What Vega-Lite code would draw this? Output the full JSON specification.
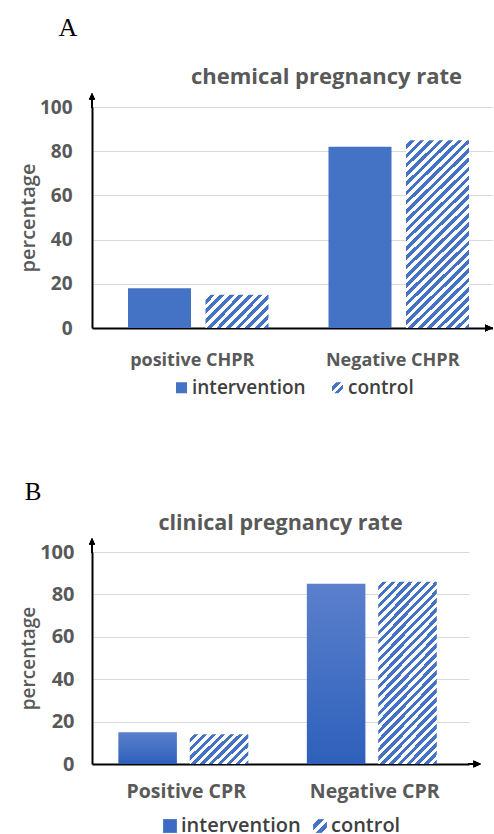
{
  "$schema": "https://vega.github.io/schema/vega-lite/v6.json",
  "background": "white",
  "padding": {"left": 18, "top": 15, "right": 0, "bottom": 0},
  "config": {"view": {"stroke": null}, "font": "Open Sans", "legend": {"layout": {"bottom": {"anchor": "middle"}}}},
  "spacing": 81,
  "resolve": {"scale": {"fill": "independent", "xOffset": "independent", "x": "independent", "y": "independent"}, "legend": {"fill": "independent"}},
  "vconcat": [
    {
      "title": {"text": "A", "anchor": "start", "font": "Liberation Serif", "fontSize": 26, "fontWeight": "normal", "color": "black", "dx": 40, "offset": 25},
      "resolve": {"scale": {"fill": "independent", "xOffset": "independent"}, "legend": {"fill": "independent"}},
      "vconcat": [
        {
          "width": 401,
          "height": 221,
          "title": {"text": "chemical pregnancy rate", "frame": "group", "anchor": "middle", "dx": 34, "fontSize": 22, "fontWeight": "bold", "color": "#595959", "font": "Open Sans", "offset": 4},
          "data": {"values": [
            {"category": "positive CHPR", "group": "intervention", "value": 18},
            {"category": "positive CHPR", "group": "control", "value": 15},
            {"category": "Negative CHPR", "group": "intervention", "value": 82},
            {"category": "Negative CHPR", "group": "control", "value": 85}
          ]},
          "layer": [
            {
              "mark": {"type": "bar"},
              "encoding": {
                "x": {"field": "category", "type": "nominal", "sort": ["positive CHPR", "Negative CHPR"],
                  "scale": {"paddingInner": 0, "paddingOuter": 0},
                  "axis": {"title": null, "labelAngle": 0, "ticks": false, "grid": false, "domainColor": "black", "domainWidth": 2, "labelPadding": 23, "labelFontSize": 18, "labelFontWeight": "bold", "labelColor": "#595959", "labelFont": "Open Sans"}},
                "xOffset": {"field": "group", "type": "nominal", "sort": ["intervention", "control"],
                  "scale": {"paddingInner": 0.187, "paddingOuter": 0.387, "align": 0.6}},
                "y": {"field": "value", "type": "quantitative", "scale": {"domain": [0, 100]},
                  "axis": {"values": [0, 20, 40, 60, 80, 100], "grid": true, "gridColor": "#d9d9d9", "gridWidth": 1, "ticks": false, "domainColor": "black", "domainWidth": 2, "labelPadding": 20, "labelFontSize": 19, "labelFontWeight": "bold", "labelColor": "#595959", "labelFont": "Open Sans", "title": "percentage", "titleFontSize": 20, "titleFontWeight": 600, "titleColor": "#595959", "titleFont": "Open Sans", "titlePadding": 1}},
                "fill": {
                  "field": "group", "type": "nominal",
                  "scale": {"domain": ["intervention", "control"], "range": ["#4472c4", {"expr": "{gradient: 'linear', x1: 0, y1: 0, x2: 1, y2: 1, stops: [{offset: 0, color: '#ffffff'}, {offset: 0.2, color: '#ffffff'}, {offset: 0.2, color: '#4472c4'}, {offset: 0.4, color: '#4472c4'}, {offset: 0.4, color: '#ffffff'}, {offset: 0.6, color: '#ffffff'}, {offset: 0.6, color: '#4472c4'}, {offset: 0.8, color: '#4472c4'}, {offset: 0.8, color: '#ffffff'}, {offset: 1, color: '#ffffff'}]}"}]},
                  "legend": {"title": null, "orient": "bottom", "direction": "horizontal", "symbolType": "square", "symbolSize": 121, "symbolStrokeWidth": 0, "labelFontSize": 19, "labelFontWeight": 600, "labelColor": "#404040", "labelFont": "Open Sans", "labelOffset": 1, "columnPadding": 22, "offset": 9},
                  "condition": [
                    {"test": "datum.group === 'control' && datum.category === 'Negative CHPR'", "value": {"gradient": "linear", "x1": 0, "y1": 0, "x2": 0.395, "y2": 1.2, "stops": [{"offset": 0, "color": "#ffffff"}, {"offset": 0.019, "color": "#ffffff"}, {"offset": 0.019, "color": "#4472c4"}, {"offset": 0.037, "color": "#4472c4"}, {"offset": 0.037, "color": "#ffffff"}, {"offset": 0.056, "color": "#ffffff"}, {"offset": 0.056, "color": "#4472c4"}, {"offset": 0.074, "color": "#4472c4"}, {"offset": 0.074, "color": "#ffffff"}, {"offset": 0.093, "color": "#ffffff"}, {"offset": 0.093, "color": "#4472c4"}, {"offset": 0.111, "color": "#4472c4"}, {"offset": 0.111, "color": "#ffffff"}, {"offset": 0.13, "color": "#ffffff"}, {"offset": 0.13, "color": "#4472c4"}, {"offset": 0.148, "color": "#4472c4"}, {"offset": 0.148, "color": "#ffffff"}, {"offset": 0.167, "color": "#ffffff"}, {"offset": 0.167, "color": "#4472c4"}, {"offset": 0.185, "color": "#4472c4"}, {"offset": 0.185, "color": "#ffffff"}, {"offset": 0.204, "color": "#ffffff"}, {"offset": 0.204, "color": "#4472c4"}, {"offset": 0.222, "color": "#4472c4"}, {"offset": 0.222, "color": "#ffffff"}, {"offset": 0.241, "color": "#ffffff"}, {"offset": 0.241, "color": "#4472c4"}, {"offset": 0.259, "color": "#4472c4"}, {"offset": 0.259, "color": "#ffffff"}, {"offset": 0.278, "color": "#ffffff"}, {"offset": 0.278, "color": "#4472c4"}, {"offset": 0.296, "color": "#4472c4"}, {"offset": 0.296, "color": "#ffffff"}, {"offset": 0.315, "color": "#ffffff"}, {"offset": 0.315, "color": "#4472c4"}, {"offset": 0.333, "color": "#4472c4"}, {"offset": 0.333, "color": "#ffffff"}, {"offset": 0.352, "color": "#ffffff"}, {"offset": 0.352, "color": "#4472c4"}, {"offset": 0.37, "color": "#4472c4"}, {"offset": 0.37, "color": "#ffffff"}, {"offset": 0.389, "color": "#ffffff"}, {"offset": 0.389, "color": "#4472c4"}, {"offset": 0.407, "color": "#4472c4"}, {"offset": 0.407, "color": "#ffffff"}, {"offset": 0.426, "color": "#ffffff"}, {"offset": 0.426, "color": "#4472c4"}, {"offset": 0.444, "color": "#4472c4"}, {"offset": 0.444, "color": "#ffffff"}, {"offset": 0.463, "color": "#ffffff"}, {"offset": 0.463, "color": "#4472c4"}, {"offset": 0.481, "color": "#4472c4"}, {"offset": 0.481, "color": "#ffffff"}, {"offset": 0.5, "color": "#ffffff"}, {"offset": 0.5, "color": "#4472c4"}, {"offset": 0.519, "color": "#4472c4"}, {"offset": 0.519, "color": "#ffffff"}, {"offset": 0.537, "color": "#ffffff"}, {"offset": 0.537, "color": "#4472c4"}, {"offset": 0.556, "color": "#4472c4"}, {"offset": 0.556, "color": "#ffffff"}, {"offset": 0.574, "color": "#ffffff"}, {"offset": 0.574, "color": "#4472c4"}, {"offset": 0.593, "color": "#4472c4"}, {"offset": 0.593, "color": "#ffffff"}, {"offset": 0.611, "color": "#ffffff"}, {"offset": 0.611, "color": "#4472c4"}, {"offset": 0.63, "color": "#4472c4"}, {"offset": 0.63, "color": "#ffffff"}, {"offset": 0.648, "color": "#ffffff"}, {"offset": 0.648, "color": "#4472c4"}, {"offset": 0.667, "color": "#4472c4"}, {"offset": 0.667, "color": "#ffffff"}, {"offset": 0.685, "color": "#ffffff"}, {"offset": 0.685, "color": "#4472c4"}, {"offset": 0.704, "color": "#4472c4"}, {"offset": 0.704, "color": "#ffffff"}, {"offset": 0.722, "color": "#ffffff"}, {"offset": 0.722, "color": "#4472c4"}, {"offset": 0.741, "color": "#4472c4"}, {"offset": 0.741, "color": "#ffffff"}, {"offset": 0.759, "color": "#ffffff"}, {"offset": 0.759, "color": "#4472c4"}, {"offset": 0.778, "color": "#4472c4"}, {"offset": 0.778, "color": "#ffffff"}, {"offset": 0.796, "color": "#ffffff"}, {"offset": 0.796, "color": "#4472c4"}, {"offset": 0.815, "color": "#4472c4"}, {"offset": 0.815, "color": "#ffffff"}, {"offset": 0.833, "color": "#ffffff"}, {"offset": 0.833, "color": "#4472c4"}, {"offset": 0.852, "color": "#4472c4"}, {"offset": 0.852, "color": "#ffffff"}, {"offset": 0.87, "color": "#ffffff"}, {"offset": 0.87, "color": "#4472c4"}, {"offset": 0.889, "color": "#4472c4"}, {"offset": 0.889, "color": "#ffffff"}, {"offset": 0.907, "color": "#ffffff"}, {"offset": 0.907, "color": "#4472c4"}, {"offset": 0.926, "color": "#4472c4"}, {"offset": 0.926, "color": "#ffffff"}, {"offset": 0.944, "color": "#ffffff"}, {"offset": 0.944, "color": "#4472c4"}, {"offset": 0.963, "color": "#4472c4"}, {"offset": 0.963, "color": "#ffffff"}, {"offset": 0.981, "color": "#ffffff"}, {"offset": 0.981, "color": "#4472c4"}, {"offset": 1, "color": "#4472c4"}]}},
                    {"test": "datum.group === 'control'", "value": {"gradient": "linear", "x1": 0, "y1": 0, "x2": 1.2, "y2": 0.62, "stops": [{"offset": 0, "color": "#ffffff"}, {"offset": 0.05, "color": "#ffffff"}, {"offset": 0.05, "color": "#4472c4"}, {"offset": 0.1, "color": "#4472c4"}, {"offset": 0.1, "color": "#ffffff"}, {"offset": 0.15, "color": "#ffffff"}, {"offset": 0.15, "color": "#4472c4"}, {"offset": 0.2, "color": "#4472c4"}, {"offset": 0.2, "color": "#ffffff"}, {"offset": 0.25, "color": "#ffffff"}, {"offset": 0.25, "color": "#4472c4"}, {"offset": 0.3, "color": "#4472c4"}, {"offset": 0.3, "color": "#ffffff"}, {"offset": 0.35, "color": "#ffffff"}, {"offset": 0.35, "color": "#4472c4"}, {"offset": 0.4, "color": "#4472c4"}, {"offset": 0.4, "color": "#ffffff"}, {"offset": 0.45, "color": "#ffffff"}, {"offset": 0.45, "color": "#4472c4"}, {"offset": 0.5, "color": "#4472c4"}, {"offset": 0.5, "color": "#ffffff"}, {"offset": 0.55, "color": "#ffffff"}, {"offset": 0.55, "color": "#4472c4"}, {"offset": 0.6, "color": "#4472c4"}, {"offset": 0.6, "color": "#ffffff"}, {"offset": 0.65, "color": "#ffffff"}, {"offset": 0.65, "color": "#4472c4"}, {"offset": 0.7, "color": "#4472c4"}, {"offset": 0.7, "color": "#ffffff"}, {"offset": 0.75, "color": "#ffffff"}, {"offset": 0.75, "color": "#4472c4"}, {"offset": 0.8, "color": "#4472c4"}, {"offset": 0.8, "color": "#ffffff"}, {"offset": 0.85, "color": "#ffffff"}, {"offset": 0.85, "color": "#4472c4"}, {"offset": 0.9, "color": "#4472c4"}, {"offset": 0.9, "color": "#ffffff"}, {"offset": 0.95, "color": "#ffffff"}, {"offset": 0.95, "color": "#4472c4"}, {"offset": 1, "color": "#4472c4"}]}}
                  ]
                }
              }
            },
            {
              "mark": {"type": "point", "shape": "M-0.1,0.1 L-0.1,-0.75 L-0.3,-0.75 L0,-1.4 L0.3,-0.75 L0.1,-0.75 L0.1,0.1 Z", "filled": true, "fill": "black", "strokeWidth": 0, "size": 400, "opacity": 1},
              "encoding": {"x": {"datum": "positive CHPR", "bandPosition": 0}, "y": {"datum": 100}}
            },
            {
              "mark": {"type": "point", "shape": "M-0.8,-0.35 L0,0 L-0.8,0.35 Z", "filled": true, "fill": "black", "strokeWidth": 0, "size": 400, "opacity": 1},
              "encoding": {"x": {"datum": "Negative CHPR", "bandPosition": 1}, "y": {"datum": 0}}
            }
          ]
        }
      ]
    },
    {
      "title": {"text": "B", "anchor": "start", "font": "Liberation Serif", "fontSize": 25, "fontWeight": "normal", "color": "black", "dx": 5, "offset": 8},
      "resolve": {"scale": {"fill": "independent", "xOffset": "independent"}, "legend": {"fill": "independent"}},
      "vconcat": [
        {
          "width": 377,
          "height": 212,
          "title": {"text": "clinical pregnancy rate", "frame": "group", "anchor": "middle", "dx": 0, "fontSize": 21.5, "fontWeight": "bold", "color": "#595959", "font": "Open Sans", "offset": 4},
          "data": {"values": [
            {"category": "Positive CPR", "group": "intervention", "value": 15},
            {"category": "Positive CPR", "group": "control", "value": 14},
            {"category": "Negative CPR", "group": "intervention", "value": 85},
            {"category": "Negative CPR", "group": "control", "value": 86}
          ]},
          "layer": [
            {
              "mark": {"type": "bar"},
              "encoding": {
                "x": {"field": "category", "type": "nominal", "sort": ["Positive CPR", "Negative CPR"],
                  "scale": {"paddingInner": 0, "paddingOuter": 0},
                  "axis": {"title": null, "labelAngle": 0, "ticks": false, "grid": false, "domainColor": "black", "domainWidth": 2, "labelPadding": 18, "labelFontSize": 19.5, "labelFontWeight": "bold", "labelColor": "#595959", "labelFont": "Open Sans"}},
                "xOffset": {"field": "group", "type": "nominal", "sort": ["intervention", "control"],
                  "scale": {"paddingInner": 0.18, "paddingOuter": 0.41, "align": 0.45}},
                "y": {"field": "value", "type": "quantitative", "scale": {"domain": [0, 100]},
                  "axis": {"values": [0, 20, 40, 60, 80, 100], "grid": true, "gridColor": "#d9d9d9", "gridWidth": 1, "ticks": false, "domainColor": "black", "domainWidth": 2, "labelPadding": 18, "labelFontSize": 20, "labelFontWeight": "bold", "labelColor": "#595959", "labelFont": "Open Sans", "title": "percentage", "titleFontSize": 19, "titleFontWeight": 600, "titleColor": "#595959", "titleFont": "Open Sans", "titlePadding": 1}},
                "fill": {
                  "field": "group", "type": "nominal",
                  "scale": {"domain": ["intervention", "control"], "range": ["#3d6bc4", {"expr": "{gradient: 'linear', x1: 0, y1: 0, x2: 1, y2: 1, stops: [{offset: 0, color: '#ffffff'}, {offset: 0.2, color: '#ffffff'}, {offset: 0.2, color: '#4472c4'}, {offset: 0.4, color: '#4472c4'}, {offset: 0.4, color: '#ffffff'}, {offset: 0.6, color: '#ffffff'}, {offset: 0.6, color: '#4472c4'}, {offset: 0.8, color: '#4472c4'}, {offset: 0.8, color: '#ffffff'}, {offset: 1, color: '#ffffff'}]}"}]},
                  "legend": {"title": null, "orient": "bottom", "direction": "horizontal", "symbolType": "square", "symbolSize": 190, "symbolStrokeWidth": 0, "labelFontSize": 20, "labelFontWeight": 600, "labelColor": "#404040", "labelFont": "Open Sans", "labelOffset": 1, "columnPadding": 9, "offset": 15},
                  "condition": [
                    {"test": "datum.group === 'intervention'", "value": {"gradient": "linear", "x1": 0, "y1": 0, "x2": 0, "y2": 1, "stops": [{"offset": 0, "color": "#5b80cc"}, {"offset": 1, "color": "#2e60bb"}]}},
                    {"test": "datum.group === 'control' && datum.category === 'Negative CPR'", "value": {"gradient": "linear", "x1": 0, "y1": 0, "x2": 0.395, "y2": 1.2, "stops": [{"offset": 0, "color": "#ffffff"}, {"offset": 0.019, "color": "#ffffff"}, {"offset": 0.019, "color": "#4472c4"}, {"offset": 0.037, "color": "#4472c4"}, {"offset": 0.037, "color": "#ffffff"}, {"offset": 0.056, "color": "#ffffff"}, {"offset": 0.056, "color": "#4472c4"}, {"offset": 0.074, "color": "#4472c4"}, {"offset": 0.074, "color": "#ffffff"}, {"offset": 0.093, "color": "#ffffff"}, {"offset": 0.093, "color": "#4472c4"}, {"offset": 0.111, "color": "#4472c4"}, {"offset": 0.111, "color": "#ffffff"}, {"offset": 0.13, "color": "#ffffff"}, {"offset": 0.13, "color": "#4472c4"}, {"offset": 0.148, "color": "#4472c4"}, {"offset": 0.148, "color": "#ffffff"}, {"offset": 0.167, "color": "#ffffff"}, {"offset": 0.167, "color": "#4472c4"}, {"offset": 0.185, "color": "#4472c4"}, {"offset": 0.185, "color": "#ffffff"}, {"offset": 0.204, "color": "#ffffff"}, {"offset": 0.204, "color": "#4472c4"}, {"offset": 0.222, "color": "#4472c4"}, {"offset": 0.222, "color": "#ffffff"}, {"offset": 0.241, "color": "#ffffff"}, {"offset": 0.241, "color": "#4472c4"}, {"offset": 0.259, "color": "#4472c4"}, {"offset": 0.259, "color": "#ffffff"}, {"offset": 0.278, "color": "#ffffff"}, {"offset": 0.278, "color": "#4472c4"}, {"offset": 0.296, "color": "#4472c4"}, {"offset": 0.296, "color": "#ffffff"}, {"offset": 0.315, "color": "#ffffff"}, {"offset": 0.315, "color": "#4472c4"}, {"offset": 0.333, "color": "#4472c4"}, {"offset": 0.333, "color": "#ffffff"}, {"offset": 0.352, "color": "#ffffff"}, {"offset": 0.352, "color": "#4472c4"}, {"offset": 0.37, "color": "#4472c4"}, {"offset": 0.37, "color": "#ffffff"}, {"offset": 0.389, "color": "#ffffff"}, {"offset": 0.389, "color": "#4472c4"}, {"offset": 0.407, "color": "#4472c4"}, {"offset": 0.407, "color": "#ffffff"}, {"offset": 0.426, "color": "#ffffff"}, {"offset": 0.426, "color": "#4472c4"}, {"offset": 0.444, "color": "#4472c4"}, {"offset": 0.444, "color": "#ffffff"}, {"offset": 0.463, "color": "#ffffff"}, {"offset": 0.463, "color": "#4472c4"}, {"offset": 0.481, "color": "#4472c4"}, {"offset": 0.481, "color": "#ffffff"}, {"offset": 0.5, "color": "#ffffff"}, {"offset": 0.5, "color": "#4472c4"}, {"offset": 0.519, "color": "#4472c4"}, {"offset": 0.519, "color": "#ffffff"}, {"offset": 0.537, "color": "#ffffff"}, {"offset": 0.537, "color": "#4472c4"}, {"offset": 0.556, "color": "#4472c4"}, {"offset": 0.556, "color": "#ffffff"}, {"offset": 0.574, "color": "#ffffff"}, {"offset": 0.574, "color": "#4472c4"}, {"offset": 0.593, "color": "#4472c4"}, {"offset": 0.593, "color": "#ffffff"}, {"offset": 0.611, "color": "#ffffff"}, {"offset": 0.611, "color": "#4472c4"}, {"offset": 0.63, "color": "#4472c4"}, {"offset": 0.63, "color": "#ffffff"}, {"offset": 0.648, "color": "#ffffff"}, {"offset": 0.648, "color": "#4472c4"}, {"offset": 0.667, "color": "#4472c4"}, {"offset": 0.667, "color": "#ffffff"}, {"offset": 0.685, "color": "#ffffff"}, {"offset": 0.685, "color": "#4472c4"}, {"offset": 0.704, "color": "#4472c4"}, {"offset": 0.704, "color": "#ffffff"}, {"offset": 0.722, "color": "#ffffff"}, {"offset": 0.722, "color": "#4472c4"}, {"offset": 0.741, "color": "#4472c4"}, {"offset": 0.741, "color": "#ffffff"}, {"offset": 0.759, "color": "#ffffff"}, {"offset": 0.759, "color": "#4472c4"}, {"offset": 0.778, "color": "#4472c4"}, {"offset": 0.778, "color": "#ffffff"}, {"offset": 0.796, "color": "#ffffff"}, {"offset": 0.796, "color": "#4472c4"}, {"offset": 0.815, "color": "#4472c4"}, {"offset": 0.815, "color": "#ffffff"}, {"offset": 0.833, "color": "#ffffff"}, {"offset": 0.833, "color": "#4472c4"}, {"offset": 0.852, "color": "#4472c4"}, {"offset": 0.852, "color": "#ffffff"}, {"offset": 0.87, "color": "#ffffff"}, {"offset": 0.87, "color": "#4472c4"}, {"offset": 0.889, "color": "#4472c4"}, {"offset": 0.889, "color": "#ffffff"}, {"offset": 0.907, "color": "#ffffff"}, {"offset": 0.907, "color": "#4472c4"}, {"offset": 0.926, "color": "#4472c4"}, {"offset": 0.926, "color": "#ffffff"}, {"offset": 0.944, "color": "#ffffff"}, {"offset": 0.944, "color": "#4472c4"}, {"offset": 0.963, "color": "#4472c4"}, {"offset": 0.963, "color": "#ffffff"}, {"offset": 0.981, "color": "#ffffff"}, {"offset": 0.981, "color": "#4472c4"}, {"offset": 1, "color": "#4472c4"}]}},
                    {"test": "datum.group === 'control'", "value": {"gradient": "linear", "x1": 0, "y1": 0, "x2": 1.2, "y2": 0.62, "stops": [{"offset": 0, "color": "#ffffff"}, {"offset": 0.05, "color": "#ffffff"}, {"offset": 0.05, "color": "#4472c4"}, {"offset": 0.1, "color": "#4472c4"}, {"offset": 0.1, "color": "#ffffff"}, {"offset": 0.15, "color": "#ffffff"}, {"offset": 0.15, "color": "#4472c4"}, {"offset": 0.2, "color": "#4472c4"}, {"offset": 0.2, "color": "#ffffff"}, {"offset": 0.25, "color": "#ffffff"}, {"offset": 0.25, "color": "#4472c4"}, {"offset": 0.3, "color": "#4472c4"}, {"offset": 0.3, "color": "#ffffff"}, {"offset": 0.35, "color": "#ffffff"}, {"offset": 0.35, "color": "#4472c4"}, {"offset": 0.4, "color": "#4472c4"}, {"offset": 0.4, "color": "#ffffff"}, {"offset": 0.45, "color": "#ffffff"}, {"offset": 0.45, "color": "#4472c4"}, {"offset": 0.5, "color": "#4472c4"}, {"offset": 0.5, "color": "#ffffff"}, {"offset": 0.55, "color": "#ffffff"}, {"offset": 0.55, "color": "#4472c4"}, {"offset": 0.6, "color": "#4472c4"}, {"offset": 0.6, "color": "#ffffff"}, {"offset": 0.65, "color": "#ffffff"}, {"offset": 0.65, "color": "#4472c4"}, {"offset": 0.7, "color": "#4472c4"}, {"offset": 0.7, "color": "#ffffff"}, {"offset": 0.75, "color": "#ffffff"}, {"offset": 0.75, "color": "#4472c4"}, {"offset": 0.8, "color": "#4472c4"}, {"offset": 0.8, "color": "#ffffff"}, {"offset": 0.85, "color": "#ffffff"}, {"offset": 0.85, "color": "#4472c4"}, {"offset": 0.9, "color": "#4472c4"}, {"offset": 0.9, "color": "#ffffff"}, {"offset": 0.95, "color": "#ffffff"}, {"offset": 0.95, "color": "#4472c4"}, {"offset": 1, "color": "#4472c4"}]}}
                  ]
                }
              }
            },
            {
              "mark": {"type": "point", "shape": "M-0.1,0.1 L-0.1,-0.75 L-0.3,-0.75 L0,-1.4 L0.3,-0.75 L0.1,-0.75 L0.1,0.1 Z", "filled": true, "fill": "black", "strokeWidth": 0, "size": 400, "opacity": 1},
              "encoding": {"x": {"datum": "Positive CPR", "bandPosition": 0}, "y": {"datum": 100}}
            },
            {
              "mark": {"type": "point", "shape": "M-0.1,-0.1 L0.45,-0.1 L0.45,-0.35 L1.2,0 L0.45,0.35 L0.45,0.1 L-0.1,0.1 Z", "filled": true, "fill": "black", "strokeWidth": 0, "size": 400, "opacity": 1},
              "encoding": {"x": {"datum": "Negative CPR", "bandPosition": 1}, "y": {"datum": 0}}
            }
          ]
        }
      ]
    }
  ]
}
